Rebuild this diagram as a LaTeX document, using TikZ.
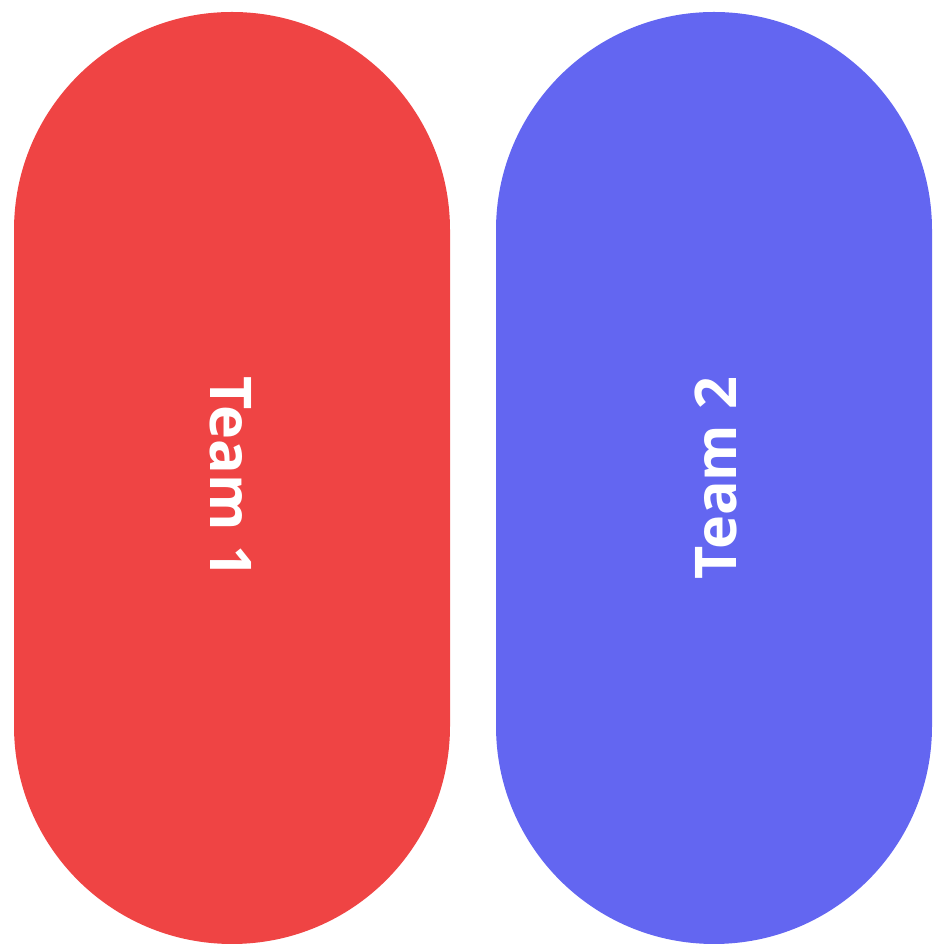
\documentclass[tikz,border=0pt]{standalone}
\usepackage{fontspec}
\setmainfont{Open Sans}
\definecolor{teamred}{HTML}{EF4444}
\definecolor{teamblue}{HTML}{6366F1}
\begin{document}
\begin{tikzpicture}[x=1pt,y=1pt,
  pill/.style={rounded corners=217.9pt},
  label/.style={text=white,font=\fontsize{57.5}{60}\selectfont\bfseries,inner sep=0pt}]
\useasboundingbox (0,0) rectangle (948,950);
\fill[teamred,pill] (14,6) rectangle (450,938);
\fill[teamblue,pill] (496,6) rectangle (932,938);
\node[label,rotate=-90] (t1) at (231,472.5) {Team 1};
\node[label,rotate=90] (t2) at (716,472) {Team 2};
\end{tikzpicture}
\end{document}
